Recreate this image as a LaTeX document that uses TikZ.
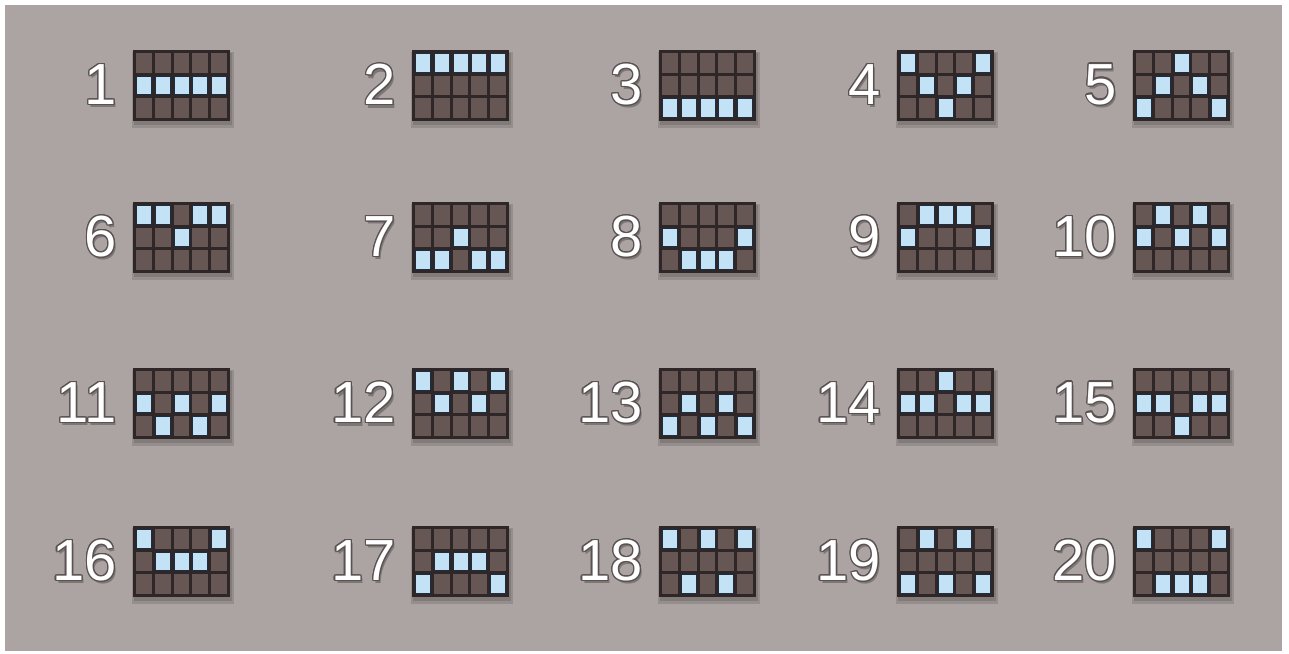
\documentclass[tikz,border=0pt]{standalone}
\usepackage{fontspec}
\setmainfont{Liberation Sans}
\usepackage{contour}
\contourlength{1.3pt}
\definecolor{bgc}{HTML}{ACA4A3}
\definecolor{framec}{HTML}{2F2727}
\definecolor{cellc}{HTML}{665755}
\definecolor{bluec}{HTML}{C4E2F6}
\definecolor{blueedge}{HTML}{1F2D40}
\definecolor{numline}{HTML}{5A5151}
\tikzset{
  numtext/.style={anchor=east, inner sep=0pt, font=\fontsize{58}{58}\selectfont},
  numshadow/.style={numtext, text=black, opacity=0.28},
  gridframe/.style={fill=framec},
  darkcell/.style={fill=cellc},
  litcell/.style={fill=bluec, draw=blueedge, line width=0.9pt},
  gshadow/.style={fill=black, opacity=0.13}
}
\newcommand{\payline}[4]{%
  \begin{scope}[shift={(#1,#2)}]
    \fill[gshadow] (-1,2) rectangle (101,78);
    \fill[gshadow] (1,3) rectangle (99,75);
    \fill[gridframe] (0,0) rectangle (97,71);
    \foreach \cc in {0,...,4}{
      \foreach \rr in {0,1,2}{
        \fill[darkcell] ({3+\cc*18.8},{3+\rr*22.67}) rectangle ++(15.8,19.67);
      }
    }
    \foreach \rr [count=\cc from 0] in {#3}{
      \draw[litcell] ({3.4+\cc*18.8},{3.4+\rr*22.67}) rectangle ++(15,18.87);
    }
    \node[numshadow] (s#4) at (-14,38) {#4};
    \node[numtext] (n#4) at (-16,35) {\contour{numline}{\textcolor{white}{#4}}};
  \end{scope}
}
\begin{document}
\begin{tikzpicture}[x=1pt,y=-1pt]
  \useasboundingbox (0,0) rectangle (1289,653);
  \fill[white] (0,0) rectangle (1289,653);
  \fill[bgc] (5,5) rectangle (1282,651);
  % row 1
  \payline{133}{50}{1,1,1,1,1}{1}
  \payline{412}{50}{0,0,0,0,0}{2}
  \payline{659}{50}{2,2,2,2,2}{3}
  \payline{897}{50}{0,1,2,1,0}{4}
  \payline{1133}{50}{2,1,0,1,2}{5}
  % row 2
  \payline{133}{202}{0,0,1,0,0}{6}
  \payline{412}{202}{2,2,1,2,2}{7}
  \payline{659}{202}{1,2,2,2,1}{8}
  \payline{897}{202}{1,0,0,0,1}{9}
  \payline{1133}{202}{1,0,1,0,1}{10}
  % row 3
  \payline{133}{368}{1,2,1,2,1}{11}
  \payline{412}{368}{0,1,0,1,0}{12}
  \payline{659}{368}{2,1,2,1,2}{13}
  \payline{897}{368}{1,1,0,1,1}{14}
  \payline{1133}{368}{1,1,2,1,1}{15}
  % row 4
  \payline{133}{526}{0,1,1,1,0}{16}
  \payline{412}{526}{2,1,1,1,2}{17}
  \payline{659}{526}{0,2,0,2,0}{18}
  \payline{897}{526}{2,0,2,0,2}{19}
  \payline{1133}{526}{0,2,2,2,0}{20}
\end{tikzpicture}
\end{document}
